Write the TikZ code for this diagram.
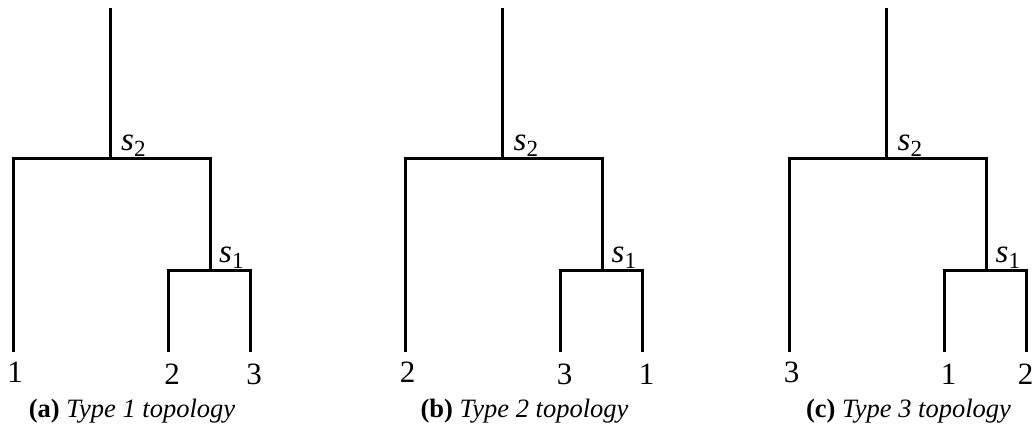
\documentclass[tikz,border=0pt]{standalone}
\usepackage{fontspec}
\setmainfont{Liberation Serif}
\begin{document}
\begin{tikzpicture}[x=1pt,y=-1pt,
  branch/.style={line width=3pt,line cap=butt,line join=miter},
  leaflab/.style={anchor=base,inner sep=0pt,font=\fontsize{31}{36}\selectfont},
  splitlab/.style={anchor=base west,inner sep=0pt,font=\fontsize{33}{38}\selectfont},
  caption/.style={anchor=base,inner sep=0pt,font=\fontsize{26.5}{30}\selectfont}]
\useasboundingbox (0,0) rectangle (1035,428);
\begin{scope}[name prefix=a-]
  \coordinate (top) at (110,8);
  \coordinate (s2) at (110,158);
  \coordinate (L) at (13,158);
  \coordinate (R) at (210,158);
  \coordinate (s1) at (210,270);
  \coordinate (l1) at (168,270);
  \coordinate (r1) at (250,270);
  \coordinate (e1) at (13,352);
  \coordinate (e2) at (168,352);
  \coordinate (e3) at (250,352);
  \draw[branch] (top) -- (s2);
  \draw[branch] (e1) -- (L) -- (R) -- (s1);
  \draw[branch] (e2) -- (l1) -- (r1) -- (e3);
  \node[splitlab] (ls2) at (121,150) {\textit{s}\textsubscript{2}};
  \node[splitlab] (ls1) at (219,262) {\textit{s}\textsubscript{1}};
  \node[leaflab] (n1) at (15,382) {1};
  \node[leaflab] (n2) at (172,384) {2};
  \node[leaflab] (n3) at (254,384) {3};
  \node[caption] (cap) at (132,417) {\textbf{(a)} \textit{Type 1 topology}};
\end{scope}
\begin{scope}[xshift=392.5pt,name prefix=b-]
  \coordinate (top) at (110,8);
  \coordinate (s2) at (110,158);
  \coordinate (L) at (13,158);
  \coordinate (R) at (210,158);
  \coordinate (s1) at (210,270);
  \coordinate (l1) at (168,270);
  \coordinate (r1) at (250,270);
  \coordinate (e1) at (13,352);
  \coordinate (e2) at (168,352);
  \coordinate (e3) at (250,352);
  \draw[branch] (top) -- (s2);
  \draw[branch] (e1) -- (L) -- (R) -- (s1);
  \draw[branch] (e2) -- (l1) -- (r1) -- (e3);
  \node[splitlab] (ls2) at (121,150) {\textit{s}\textsubscript{2}};
  \node[splitlab] (ls1) at (219,262) {\textit{s}\textsubscript{1}};
  \node[leaflab] (n1) at (15,382) {2};
  \node[leaflab] (n2) at (172,384) {3};
  \node[leaflab] (n3) at (254,384) {1};
  \node[caption] (cap) at (132,417) {\textbf{(b)} \textit{Type 2 topology}};
\end{scope}
\begin{scope}[xshift=776.5pt,name prefix=c-]
  \coordinate (top) at (110,8);
  \coordinate (s2) at (110,158);
  \coordinate (L) at (13,158);
  \coordinate (R) at (210,158);
  \coordinate (s1) at (210,270);
  \coordinate (l1) at (168,270);
  \coordinate (r1) at (250,270);
  \coordinate (e1) at (13,352);
  \coordinate (e2) at (168,352);
  \coordinate (e3) at (250,352);
  \draw[branch] (top) -- (s2);
  \draw[branch] (e1) -- (L) -- (R) -- (s1);
  \draw[branch] (e2) -- (l1) -- (r1) -- (e3);
  \node[splitlab] (ls2) at (121,150) {\textit{s}\textsubscript{2}};
  \node[splitlab] (ls1) at (219,262) {\textit{s}\textsubscript{1}};
  \node[leaflab] (n1) at (15,382) {3};
  \node[leaflab] (n2) at (172,384) {1};
  \node[leaflab] (n3) at (249,384) {2};
  \node[caption] (cap) at (132,417) {\textbf{(c)} \textit{Type 3 topology}};
\end{scope}
\end{tikzpicture}
\end{document}
